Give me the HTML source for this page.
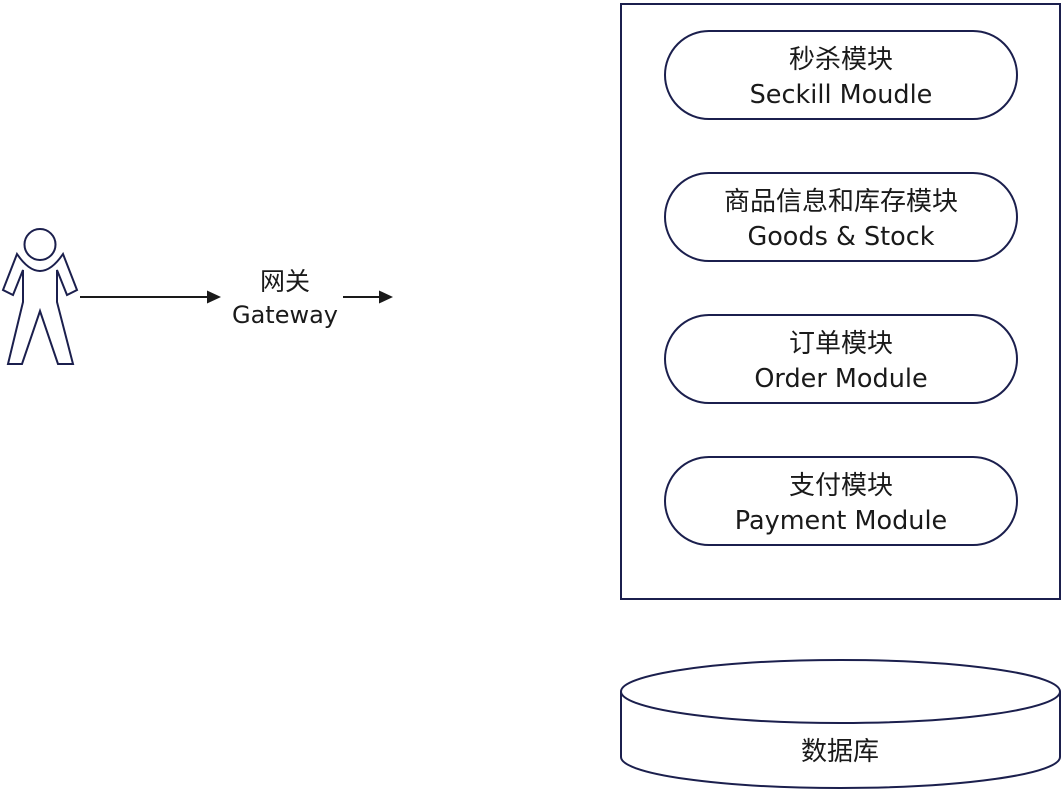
<!DOCTYPE html>
<html>
<head>
<meta charset="utf-8">
<style>
  html, body { margin: 0; padding: 0; background: #ffffff; }
  body { width: 1062px; height: 790px; overflow: hidden; }
  svg { display: block; }
  text { font-family: "DejaVu Sans", "Noto Sans CJK SC", sans-serif; font-size: 25.5px; fill: #1a1a1a; }
  text.cjk { font-size: 26px; }
  text.gw { font-size: 24px; }
  text.gwc { font-size: 25px; }
</style>
</head>
<body>
<svg width="1062" height="790" viewBox="0 0 1062 790" xmlns="http://www.w3.org/2000/svg">
  <!-- Person -->
  <g fill="none" stroke="#1b1f4d" stroke-width="2" stroke-linejoin="miter">
    <circle cx="40" cy="244.5" r="15.5"/>
    <path d="M17,254 L3,290 L13,295 L23,270 L23,302 L8,364 L22,364 L40,311 L58,364 L73,364 L57,302 L57,270 L67,295 L77,290 L63,254 Q40,288 17,254 Z"/>
  </g>

  <!-- Arrow 1 -->
  <line x1="80" y1="297" x2="208" y2="297" stroke="#1a1a1a" stroke-width="2"/>
  <polygon points="207,290.5 221,297 207,303.5" fill="#1a1a1a"/>

  <!-- Gateway label -->
  <text class="gwc" x="285" y="290" text-anchor="middle">网关</text>
  <text class="gw" x="285" y="323" text-anchor="middle">Gateway</text>

  <!-- Arrow 2 -->
  <line x1="343" y1="297" x2="380" y2="297" stroke="#1a1a1a" stroke-width="2"/>
  <polygon points="379,290.5 393,297 379,303.5" fill="#1a1a1a"/>

  <!-- Service container -->
  <rect x="621" y="4" width="439" height="595" fill="none" stroke="#1b1f4d" stroke-width="2"/>

  <!-- Pills -->
  <g fill="#ffffff" stroke="#1b1f4d" stroke-width="2">
    <rect x="665" y="31" width="352" height="88" rx="44" ry="44"/>
    <rect x="665" y="173" width="352" height="88" rx="44" ry="44"/>
    <rect x="665" y="315" width="352" height="88" rx="44" ry="44"/>
    <rect x="665" y="457" width="352" height="88" rx="44" ry="44"/>
  </g>

  <text class="cjk" x="841" y="68" text-anchor="middle">秒杀模块</text>
  <text x="841" y="103" text-anchor="middle">Seckill Moudle</text>

  <text class="cjk" x="841" y="210" text-anchor="middle">商品信息和库存模块</text>
  <text x="841" y="245" text-anchor="middle">Goods &amp; Stock</text>

  <text class="cjk" x="841" y="352" text-anchor="middle">订单模块</text>
  <text x="841" y="387" text-anchor="middle">Order Module</text>

  <text class="cjk" x="841" y="494" text-anchor="middle">支付模块</text>
  <text x="841" y="529" text-anchor="middle">Payment Module</text>

  <!-- Database cylinder -->
  <g fill="#ffffff" stroke="#1b1f4d" stroke-width="2">
    <path d="M621,691.5 L621,757 A219.5,31 0 0 0 1060,757 L1060,691.5"/>
    <ellipse cx="840.5" cy="691.5" rx="219.5" ry="31.5"/>
  </g>
  <text class="cjk" x="840" y="760" text-anchor="middle">数据库</text>
</svg>
</body>
</html>
